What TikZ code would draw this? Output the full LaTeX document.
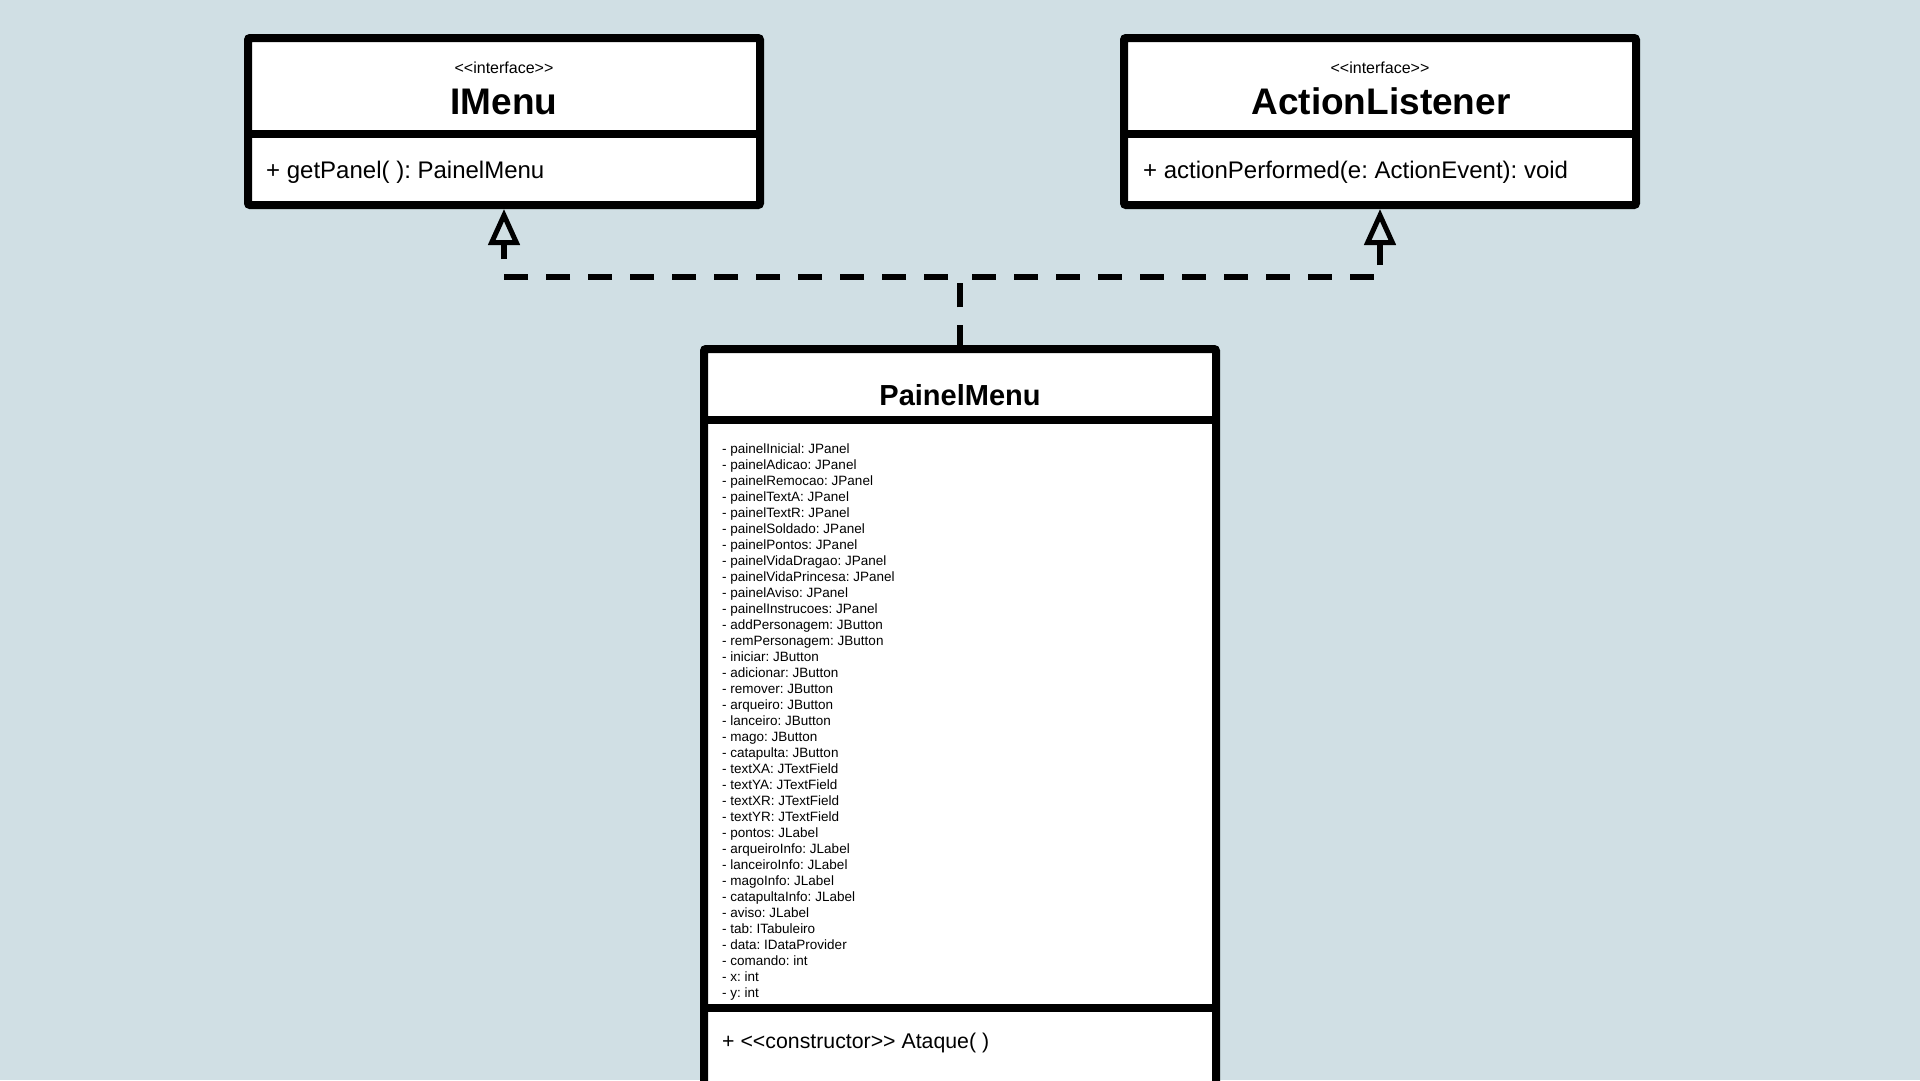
\documentclass[tikz,border=0pt]{standalone}
\usepackage{fontspec}
\setmainfont{Liberation Sans}[Ligatures=TeXOff]
\usetikzlibrary{arrows.meta}
\definecolor{bgpanel}{RGB}{208,223,228}
\frenchspacing

\begin{document}
\begin{tikzpicture}[x=1pt,y=-1pt,
  classbox/.style={draw=black,fill=white,line width=8pt,rounded corners=2pt,inner sep=0pt,outer sep=4pt},
  divider/.style={line width=8pt},
  stereo/.style={font=\fontsize{16}{19}\selectfont,anchor=base,inner sep=0pt},
  classname/.style={font=\fontsize{37}{44}\selectfont\bfseries,anchor=base,inner sep=0pt},
  member/.style={font=\fontsize{24}{29}\selectfont,anchor=base west,inner sep=0pt},
  attr/.style={font=\fontsize{13.5}{16}\selectfont,anchor=base west,inner sep=0pt},
  realize/.style={line width=6pt,dash pattern=on 24pt off 18pt,dash phase=4pt,
    -{Triangle[open,length=36pt,width=31pt,line width=5pt]}}]
\fill[bgpanel] (0,0) rectangle (1920,1080);
\useasboundingbox (0,0) rectangle (1920,1080);
\clip (0,0) rectangle (1920,1080);

% interfaces
\node[classbox,minimum width=512pt,minimum height=167pt] (imenu) at (504,121.5) {};
\draw[divider] (imenu.west |- 0,134) -- (imenu.east |- 0,134);
\node[stereo] (imenu-st) at (504,73) {<<interface>>};
\node[classname] (imenu-name) at (504,114) {IMenu};
\node[member] (imenu-op) at (266,178) {+ getPanel( ): PainelMenu};

\node[classbox,minimum width=512pt,minimum height=167pt] (listener) at (1380,121.5) {};
\draw[divider] (listener.west |- 0,134) -- (listener.east |- 0,134);
\node[stereo] (listener-st) at (1380,73) {<<interface>>};
\node[classname] (listener-name) at (1381,114) {ActionListener};
\node[member] (listener-op) at (1143,178) {+ actionPerformed(e: ActionEvent): void};

% class
\node[classbox,minimum width=512pt,minimum height=771pt] (painel) at (960,734.5) {};
\draw[divider] (painel.west |- 0,420) -- (painel.east |- 0,420);
\draw[divider] (painel.west |- 0,1008) -- (painel.east |- 0,1008);
\node[classname,font=\fontsize{29}{35}\selectfont\bfseries] (painel-name) at (960,405) {PainelMenu};
\foreach \a [count=\i] in {painelInicial: JPanel, painelAdicao: JPanel, painelRemocao: JPanel,
  painelTextA: JPanel, painelTextR: JPanel, painelSoldado: JPanel, painelPontos: JPanel,
  painelVidaDragao: JPanel, painelVidaPrincesa: JPanel, painelAviso: JPanel,
  painelInstrucoes: JPanel, addPersonagem: JButton, remPersonagem: JButton,
  iniciar: JButton, adicionar: JButton, remover: JButton, arqueiro: JButton,
  lanceiro: JButton, mago: JButton, catapulta: JButton, textXA: JTextField,
  textYA: JTextField, textXR: JTextField, textYR: JTextField, pontos: JLabel,
  arqueiroInfo: JLabel, lanceiroInfo: JLabel, magoInfo: JLabel, catapultaInfo: JLabel,
  aviso: JLabel, tab: ITabuleiro, data: IDataProvider, comando: int, x: int, y: int}
  \node[attr] (attr\i) at (722,{437+16*\i}) {- \a};
\node[member,font=\fontsize{21.3}{26}\selectfont] (painel-op) at (722,1048) {+ <<constructor>> Ataque( )};

% realization
\coordinate (fork) at (960,277);
\draw[realize] (painel.north) -- (fork) -| (imenu.south);
\draw[realize] (painel.north) -- (fork) -| (listener.south);
\end{tikzpicture}
\end{document}
